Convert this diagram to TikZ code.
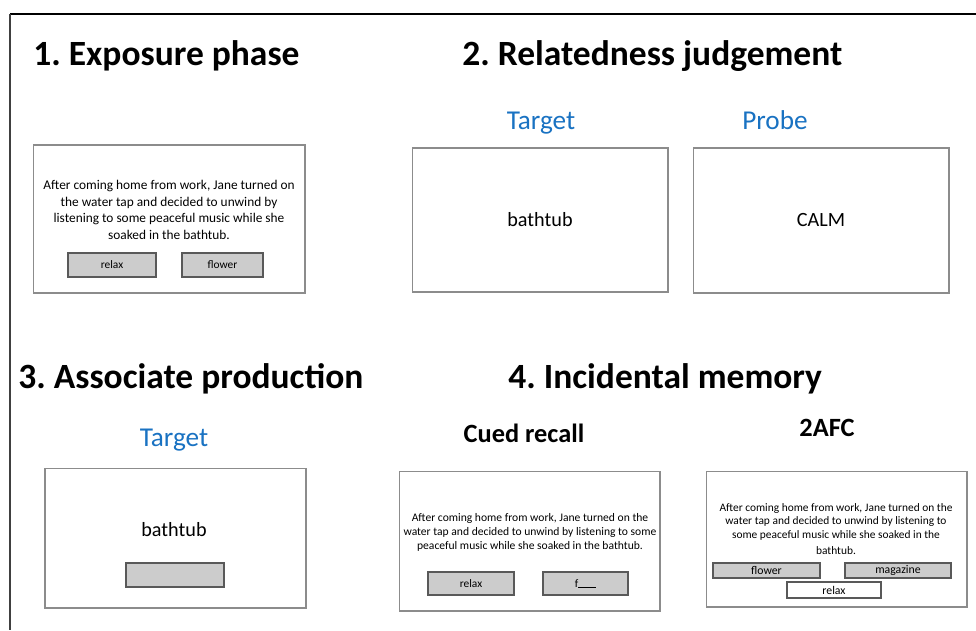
\documentclass[tikz,border=0pt]{standalone}
\usepackage{fontspec}
\setmainfont{Carlito}
\usetikzlibrary{positioning}
\definecolor{labelblue}{RGB}{25,114,194}
\frenchspacing

\begin{document}
\begin{tikzpicture}[x=0.02cm, y=-0.02cm,
    heading/.style={font=\fontsize{20.2}{23}\selectfont\bfseries, anchor=base west, inner sep=0pt},
    phase/.style={font=\fontsize{15.5}{18}\selectfont, text=labelblue, anchor=base, inner sep=0pt},
    task/.style={font=\fontsize{15}{18}\selectfont\bfseries, anchor=base, inner sep=0pt},
    screen/.style={draw=black!45, line width=0.6pt, inner sep=0pt},
    key/.style={draw=black!65, fill=black!20, line width=0.6pt, inner sep=0pt, font=\fontsize{6.5}{8}\selectfont},
    story/.style={align=center, inner sep=0pt},
    word/.style={font=\fontsize{11.5}{14}\selectfont, inner sep=0pt}]
  \useasboundingbox (0,0) rectangle (976,630);
  % frame
  \coordinate (corner) at (10,14);
  \draw[line width=1.1pt] (corner) -- (976,14);
  \draw[line width=1pt, black!75] (corner) -- (10,630);

  % 1. exposure
  \node[heading] (h1) at (33,65) {1. Exposure phase};
  \node[screen, minimum width=5.44cm, minimum height=2.96cm] (ex) at (169,219) {};
  \node[story, font=\fontsize{7.6}{9.4}\selectfont] (exstory) at (169,210)
    {After coming home from work, Jane turned on\\the water tap and decided to unwind by\\listening to some peaceful music while she\\soaked in the bathtub.};
  \node[key, minimum width=1.76cm, minimum height=0.48cm] (exrelax) at (112,265) {relax};
  \node[key, minimum width=1.62cm, minimum height=0.48cm] (exflower) at (222.5,265) {flower};

  % 2. relatedness
  \node[heading] (h2) at (462,65) {2. Relatedness judgement};
  \node[phase] (tgtlab) at (541,129) {Target};
  \node[phase] (prblab) at (775,129) {Probe};
  \node[screen, minimum width=5.12cm, minimum height=2.88cm] (tgt) at (540,220) {};
  \node[screen, minimum width=5.12cm, minimum height=2.9cm] (prb) at (821,220.5) {};
  \node[word] at (tgt) {bathtub};
  \node[word] at (prb) {CALM};

  % 3. associate production
  \node[heading] (h3) at (18,388) {3. Associate production};
  \node[phase] (asclab) at (174,446) {Target};
  \node[screen, minimum width=5.22cm, minimum height=2.8cm] (asc) at (175.5,538) {};
  \node[word] (ascword) at (174,530) {bathtub};
  \node[key, minimum width=1.96cm, minimum height=0.48cm] (ascfield) at (175,575) {};

  % 4. incidental memory
  \node[heading] (h4) at (508,388) {4. Incidental memory};
  \node[task] (cuelab) at (524,442) {Cued recall};
  \node[task] (afclab) at (827,436) {2AFC};
  \node[screen, minimum width=5.22cm, minimum height=2.8cm] (cue) at (529.5,541) {};
  \node[story, font=\fontsize{6.6}{8}\selectfont] (cuestory) at (530,532)
    {After coming home from work, Jane turned on the\\water tap and decided to unwind by listening to some\\peaceful music while she soaked in the bathtub.};
  \node[key, minimum width=1.72cm, minimum height=0.46cm] (cuerelax) at (471,583.5) {relax};
  \node[key, minimum width=1.7cm, minimum height=0.46cm] (cuef) at (585.5,583.5) {f\rule{10pt}{0.4pt}};

  \node[screen, minimum width=5.22cm, minimum height=2.72cm] (afc) at (836.5,539) {};
  \node[story, font=\fontsize{6.5}{7.8}\selectfont] (afcstory) at (836,529)
    {After coming home from work, Jane turned on the\\water tap and decided to unwind by listening to\\some peaceful music while she soaked in the\\[1.5pt]bathtub.};
  \node[key, minimum width=2.14cm, minimum height=0.3cm, font=\fontsize{6.7}{8}\selectfont] (afcflower) at (766.5,570.5) {flower};
  \node[key, minimum width=2.12cm, minimum height=0.3cm, font=\fontsize{6.7}{8}\selectfont] (afcmag) at (898,570.5) {magazine};
  \node[key, fill=white, minimum width=1.88cm, minimum height=0.32cm, font=\fontsize{6.7}{8}\selectfont] (afcrelax) at (834,590) {relax};
\end{tikzpicture}
\end{document}
